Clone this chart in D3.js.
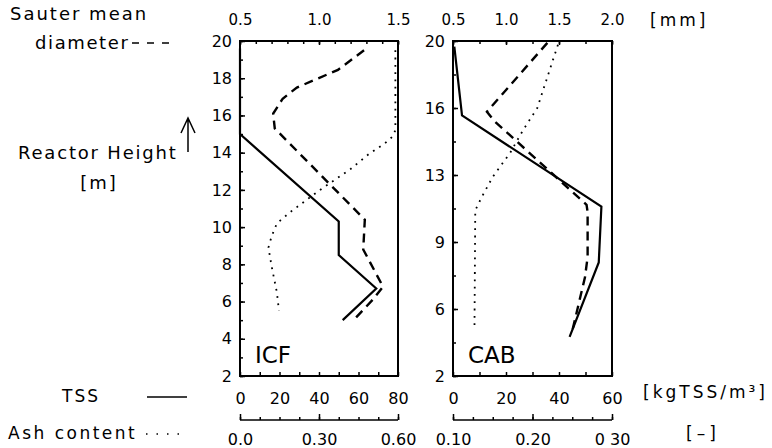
<!DOCTYPE html>
<html><head><meta charset="utf-8">
<script src="https://cdn.jsdelivr.net/npm/d3@7"></script>
<style>
body{margin:0;background:#fff}
text{font-family:"DejaVu Sans",sans-serif;fill:#000}
</style>
</head><body>
<svg id="c" width="772" height="448"></svg>
<script>
// ---------- data ----------
const icfTssHeight = [19.6, 15.0, 10.3, 8.5, 6.7, 5.0];
const icfTssValue = [0, 0, 50, 50, 69, 52];
const icfSauterHeight = [19.5, 18.45, 17.5, 16.9, 16.1, 15.3, 10.4, 8.8, 6.8, 6.1, 5.1];
const icfSauterValue = [1.285, 1.12, 0.86, 0.77, 0.71, 0.72, 1.29, 1.28, 1.405, 1.34, 1.23];
const icfAshHeight = [19.5, 15.2, 14.85, 14.5, 13.9, 13.1, 12.0, 10.8, 10.2, 9.5, 8.9, 7.9, 6.5, 5.5];
const icfAshValue = [0.59, 0.59, 0.578, 0.55, 0.487, 0.418, 0.304, 0.19, 0.14, 0.12, 0.108, 0.12, 0.14, 0.148];

const cabTssHeight = [19.7, 16.0, 11.1, 8.1, 4.1];
const cabTssValue = [0.5, 3.4, 56, 55, 44];
const cabSauterHeight = [19.9, 16.2, 15.7, 11.2, 10.8, 8.4, 7.3, 4.3];
const cabSauterValue = [1.39, 0.82, 0.89, 1.76, 1.77, 1.77, 1.745, 1.62];
const cabAshHeight = [19.8, 16.4, 15.2, 14.0, 12.7, 11.6, 10.9, 4.5];
const cabAshValue = [0.232, 0.206, 0.188, 0.172, 0.150, 0.136, 0.128, 0.127];

const heightDomain = [2, 20];
const icfHeightTicks = [2, 4, 6, 8, 10, 12, 14, 16, 18, 20];
const cabHeightTicks = [2, 5.6, 9.2, 12.8, 16.4, 20];
const cabHeightLabels = ["2", "6", "9", "13", "16", "20"];
const icfDiamTicks = [0.5, 1.0, 1.5];
const cabDiamTicks = [0.5, 1.0, 1.5, 2.0];
const icfTssTicks = [0, 20, 40, 60, 80];
const cabTssTicks = [0, 20, 40, 60];
const icfAshTicks = [0, 0.3, 0.6];
const icfAshLabels = ["0.0", "0.30", "0.60"];
const cabAshTicks = [0.1, 0.2, 0.3];
const cabAshLabels = ["0.10", "0.20", "0 30"];

// ---------- layout ----------
const svg = d3.select("#c");
const yTop = 41, yBot = 376;
const y = d3.scaleLinear().domain(heightDomain).range([yBot, yTop]);

const panels = [
  {name: "ICF", x0: 240, x1: 398, tss: [0, 80], diam: [0.5, 1.5], ash: [0, 0.6],
   tssH: icfTssHeight, tssV: icfTssValue, dH: icfSauterHeight, dV: icfSauterValue,
   aH: icfAshHeight, aV: icfAshValue,
   hTicks: icfHeightTicks, hLabels: icfHeightTicks.map(String), hMinor: d3.range(2, 20.01, 1),
   dTicks: icfDiamTicks, dMinor: d3.range(0.5, 1.501, 0.1),
   tTicks: icfTssTicks, tMinor: d3.range(0, 80.1, 10),
   aTicks: icfAshTicks, aLabels: icfAshLabels, aMinor: d3.range(0, 0.601, 0.075)},
  {name: "CAB", x0: 453, x1: 612, tss: [0, 60], diam: [0.5, 2.0], ash: [0.1, 0.3],
   tssH: cabTssHeight, tssV: cabTssValue, dH: cabSauterHeight, dV: cabSauterValue,
   aH: cabAshHeight, aV: cabAshValue,
   hTicks: cabHeightTicks, hLabels: cabHeightLabels, hMinor: d3.range(2, 20.01, 1.8),
   dTicks: cabDiamTicks, dMinor: d3.range(0.5, 2.001, 0.25),
   tTicks: cabTssTicks, tMinor: d3.range(0, 60.1, 10),
   aTicks: cabAshTicks, aLabels: cabAshLabels, aMinor: d3.range(0.1, 0.3001, 0.025)}
];

function styleAxis(g, fs) {
  g.select(".domain").remove();
  g.selectAll(".tick line").attr("stroke", "#000").attr("stroke-width", 1.5);
  g.selectAll(".tick text").attr("font-size", fs).attr("font-family", "DejaVu Sans, sans-serif").attr("fill", "#000");
}

panels.forEach(p => {
  const xT = d3.scaleLinear().domain(p.tss).range([p.x0, p.x1]);
  const xD = d3.scaleLinear().domain(p.diam).range([p.x0, p.x1]);
  const xA = d3.scaleLinear().domain(p.ash).range([p.x0, p.x1]);
  const g = svg.append("g");

  // left axis
  g.append("g").attr("transform", `translate(${p.x0},0)`)
    .call(d3.axisLeft(y).tickValues(p.hMinor).tickSize(-3).tickFormat(""))
    .call(a => styleAxis(a, 16));
  g.append("g").attr("transform", `translate(${p.x0},0)`)
    .call(d3.axisLeft(y).tickValues(p.hTicks).tickSize(-5).tickPadding(8)
      .tickFormat((d, i) => p.hLabels[i]))
    .call(a => styleAxis(a, 16));

  // top axis (Sauter diameter)
  g.append("g").attr("transform", `translate(0,${yTop})`)
    .call(d3.axisTop(xD).tickValues(p.dMinor).tickSize(-3).tickFormat(""))
    .call(a => styleAxis(a, 15));
  g.append("g").attr("transform", `translate(0,${yTop})`)
    .call(d3.axisTop(xD).tickValues(p.dTicks).tickSize(-4).tickPadding(16)
      .tickFormat(d3.format(".1f")))
    .call(a => styleAxis(a, 15));

  // bottom axis (TSS)
  g.append("g").attr("transform", `translate(0,${yBot})`)
    .call(d3.axisBottom(xT).tickValues(p.tMinor).tickSize(-4).tickPadding(17)
      .tickFormat(d => p.tTicks.includes(d) ? d3.format("d")(d) : ""))
    .call(a => styleAxis(a, 16));

  // ash axis (separate line below)
  const ashY = 420;
  g.append("line").attr("x1", p.x0).attr("x2", p.x1).attr("y1", ashY).attr("y2", ashY)
    .attr("stroke", "#000").attr("stroke-width", 1.4);
  g.append("g").attr("transform", `translate(0,${ashY})`)
    .call(d3.axisBottom(xA).tickValues(p.aMinor).tickSize(-3).tickFormat(""))
    .call(a => styleAxis(a, 16));
  g.append("g").attr("transform", `translate(0,${ashY})`)
    .call(d3.axisBottom(xA).tickValues(p.aTicks).tickSize(-6).tickPadding(14)
      .tickFormat((d, i) => p.aLabels[i]))
    .call(a => styleAxis(a, 16));

  // box
  g.append("rect").attr("x", p.x0).attr("y", yTop).attr("width", p.x1 - p.x0).attr("height", yBot - yTop)
    .attr("fill", "none").attr("stroke", "#000").attr("stroke-width", 2);

  // series
  const mk = (H, V, xs) => d3.line().x((d, i) => xs(V[i])).y(d => y(d))(H);
  g.append("path").attr("d", mk(p.aH, p.aV, xA)).attr("fill", "none").attr("stroke", "#000")
    .attr("stroke-width", 1.8).attr("stroke-dasharray", "1.8,5.5");
  g.append("path").attr("d", mk(p.dH, p.dV, xD)).attr("fill", "none").attr("stroke", "#000")
    .attr("stroke-width", 2.4).attr("stroke-dasharray", "9,6");
  g.append("path").attr("d", mk(p.tssH, p.tssV, xT)).attr("fill", "none").attr("stroke", "#000")
    .attr("stroke-width", 2.2);

  // panel label
  g.append("text").attr("x", p.x0 + 15).attr("y", 363).attr("font-size", 23).text(p.name);
});

// ---------- left legend / labels ----------
const lab = (x, yy, t, fs, ls, anchor) => svg.append("text").attr("x", x).attr("y", yy)
  .attr("font-size", fs).attr("letter-spacing", ls).attr("text-anchor", anchor || "start").text(t);

lab(10, 20, "Sauter mean", 18, 2);
lab(35, 49, "diameter", 18, 1.6);
svg.append("line").attr("x1", 132).attr("x2", 176).attr("y1", 43).attr("y2", 43)
  .attr("stroke", "#000").attr("stroke-width", 1.5).attr("stroke-dasharray", "7,8");

lab(18, 159, "Reactor Height", 18, 1.8);
lab(99, 189, "[m]", 18, 2, "middle");
svg.append("path").attr("d", "M188,152 L188,118 M181,133 L188,118 L195,133")
  .attr("fill", "none").attr("stroke", "#000").attr("stroke-width", 1.5);

lab(62, 402, "TSS", 17, 2);
svg.append("line").attr("x1", 147).attr("x2", 187).attr("y1", 397).attr("y2", 397)
  .attr("stroke", "#000").attr("stroke-width", 1.3);
lab(8, 439, "Ash content", 17, 2.5);
svg.append("line").attr("x1", 146).attr("x2", 187).attr("y1", 434).attr("y2", 434)
  .attr("stroke", "#000").attr("stroke-width", 1.3).attr("stroke-dasharray", "1.5,9");

// ---------- right units ----------
lab(650, 26, "[mm]", 17, 3);
lab(643, 398, "[kgTSS/m³]", 17, 3);
lab(686, 439, "[–]", 17, 4);
</script>
</body></html>
